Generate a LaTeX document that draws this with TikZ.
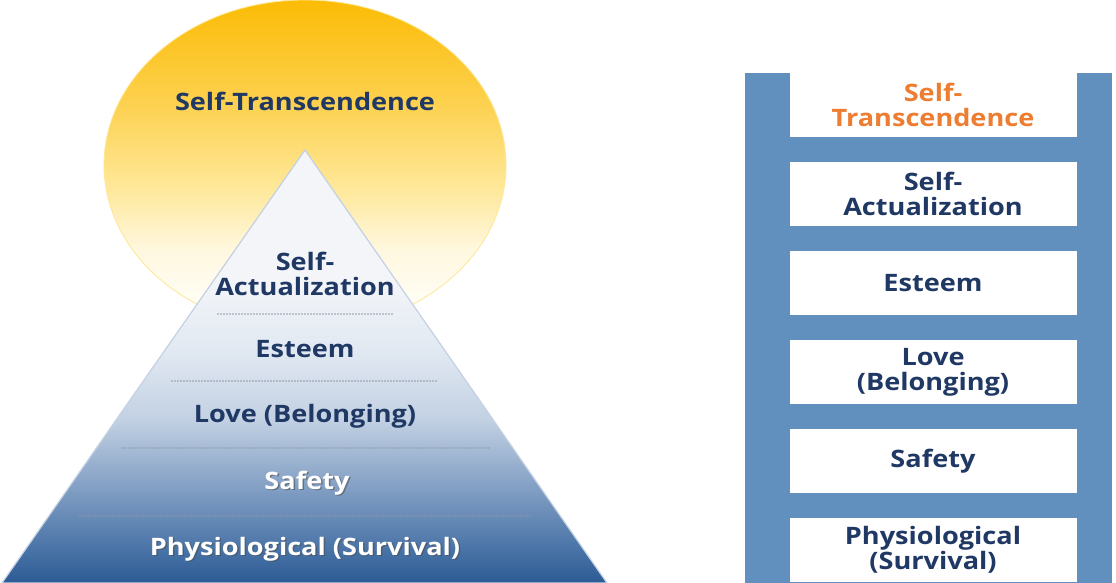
\documentclass[tikz,border=0pt]{standalone}
\usepackage{fontspec}
\setmainfont{Open Sans}[FakeStretch=1.13]
\usetikzlibrary{shadings}
\definecolor{navy}{HTML}{1F3864}
\definecolor{orangeT}{HTML}{ED7D31}
\definecolor{ladder}{HTML}{6190BE}
\definecolor{pB}{HTML}{2C5A94}
\definecolor{p1}{HTML}{4A74A7}
\definecolor{p2}{HTML}{8AA5C8}
\definecolor{p3}{HTML}{C3D1E3}
\definecolor{p4}{HTML}{E2E9F2}
\definecolor{pW}{HTML}{F3F5F9}
\definecolor{y0}{HTML}{FBBC05}
\definecolor{y1}{HTML}{FDD04C}
\definecolor{y2}{HTML}{FEE796}
\definecolor{y3}{HTML}{FFF8E0}
\definecolor{dotc}{HTML}{8E99AB}
\pgfdeclareverticalshading{pyrshade}{100bp}{color(0bp)=(pB); color(25bp)=(pB); color(29bp)=(p1); color(37bp)=(p2); color(44bp)=(p3); color(52bp)=(p4); color(60bp)=(pW); color(100bp)=(pW)}
\pgfdeclareverticalshading{sunshade}{100bp}{color(0bp)=(white); color(25bp)=(white); color(37bp)=(y3); color(47bp)=(y2); color(60bp)=(y1); color(75bp)=(y0); color(100bp)=(y0)}
\tikzset{
  lbl/.style={font=\bfseries\fontsize{24}{25}\selectfont, text=navy, align=center, inner sep=0pt},
  wlbl/.style={lbl, text=white},
  shd/.style={lbl, text=black!70, opacity=0.55},
  sep/.style={dotc, line width=1.6pt, line cap=round, dash pattern=on 0pt off 3pt},
  rung/.style={fill=white, draw=none}
}
\begin{document}
\begin{tikzpicture}[x=1pt,y=1pt]
\useasboundingbox (0,0) rectangle (1116,583);
\fill[white] (0,0) rectangle (1116,583);
% sun
\path[shading=sunshade, draw=y2, line width=0.8pt] (305,418) ellipse [x radius=201, y radius=165];
\node[lbl] (st) at (305,482) {Self-Transcendence};
% pyramid
\path[shading=pyrshade, draw=p3, line width=1.2pt] (305,433) -- (607,0) -- (2,0) -- cycle;
\coordinate (d1a) at (218,269); \coordinate (d1b) at (392,269);
\coordinate (d2a) at (172,202); \coordinate (d2b) at (438,202);
\coordinate (d3a) at (123,135); \coordinate (d3b) at (490,135);
\coordinate (d4a) at (80,67);   \coordinate (d4b) at (530,67);
\draw[sep] (d1a) -- (d1b);
\draw[sep] (d2a) -- (d2b);
\draw[sep] (d3a) -- (d3b);
\draw[sep] (d4a) -- (d4b);
\node[lbl] (sa) at (305,309) {Self-\\Actualization};
\node[lbl] (es) at (305,234) {Esteem};
\node[lbl] (lb) at (305,167) {Love (Belonging)};
\node[shd] (sfs) at (308.5,98.5) {Safety};
\node[wlbl] (sf) at (307,100) {Safety};
\node[shd] (phs) at (306.5,32.5) {Physiological (Survival)};
\node[wlbl] (ph) at (305,34) {Physiological (Survival)};
% ladder
\fill[ladder] (745,0) rectangle (1112,510);
\foreach \t in {510,421,332,243,154,65}{
  \fill[rung] (790,\t) rectangle (1077,\t-64);
}
\node[lbl, text=orangeT] (r1) at (933,478) {Self-\\Transcendence};
\node[lbl] (r2) at (933,389) {Self-\\Actualization};
\node[lbl] (r3) at (933,300) {Esteem};
\node[lbl] (r4) at (933,211) {Love\\(Belonging)};
\node[lbl] (r5) at (933,122) {Safety};
\node[lbl] (r6) at (933,33) {Physiological\\(Survival)};
\end{tikzpicture}
\end{document}
